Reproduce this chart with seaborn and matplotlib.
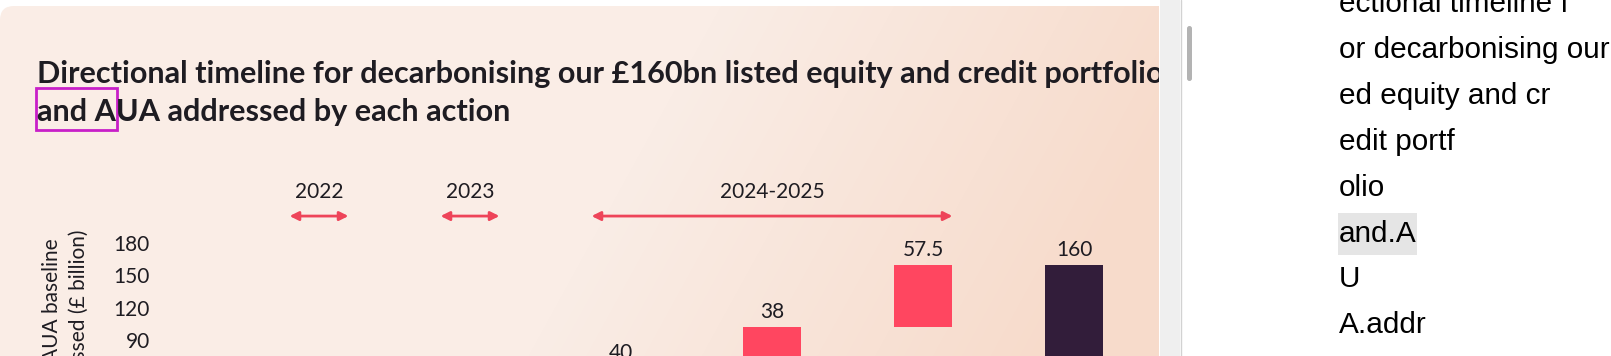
import numpy as np
import matplotlib
matplotlib.use("Agg")
from matplotlib import pyplot as plt
from matplotlib.patches import FancyBboxPatch, Rectangle
import seaborn as sns

# data
steps = ['2022', '2023', 'Action 3', 'Action 4', 'Action 5', 'Total']
step_values = [12.0, 12.5, 40, 38, 57.5, 160]
step_labels = ['', '', '40', '38', '57.5', '160']
is_total = [False, False, False, False, False, True]
period_names = ['2022', '2023', '2024-2025']
period_first = [0, 1, 2]
period_last = [0, 1, 4]
yticks = [90, 120, 150, 180]
side_lines = ['ectional timeline f', 'or decarbonising our', 'ed equity and cr',
              'edit portf', 'olio', 'and.A', 'U', 'A.addr']

RED = '#FF4660'
DARK = '#321D3A'
ARROW = '#EE4459'
INK = '#1E1C22'

sns.set_theme(style='white')
plt.rcParams['font.family'] = ['Lato', 'DejaVu Sans']

W, H = 1611, 356
fig = plt.figure(figsize=(W / 100, H / 100), dpi=100, facecolor='white')

# background card with soft gradient
bg = fig.add_axes([0, 0, 1, 1], zorder=-10)
bg.set_xlim(0, W)
bg.set_ylim(H, 0)
bg.axis('off')
cw = 1159
yy, xx = np.mgrid[0:420, 0:1300]
t = np.clip((xx + 0.55 * yy - 720) / 520, 0, 1)[..., None]
light = np.array([250, 237, 230]) / 255
peach = np.array([247, 219, 203]) / 255
img = light * (1 - t) + peach * t
im = bg.imshow(img, extent=[0, 1300, 426, 6], origin='upper', aspect='auto')
card = FancyBboxPatch((0, 6), 1300, 420, boxstyle='round,pad=0,rounding_size=14',
                      transform=bg.transData, facecolor='none', edgecolor='none')
bg.add_patch(card)
im.set_clip_path(card)

# main chart axes (bottom part of the chart runs below the visible window)
ax = fig.add_axes([165 / W, -81 / H, (1159 - 165) / W, 194 / H], zorder=1)
ax.patch.set_alpha(0)

bottoms = []
run = 0
for v, tot in zip(step_values, is_total):
    if tot:
        bottoms.append(0)
    else:
        bottoms.append(run)
        run += v

sns.barplot(x=steps, y=step_values, bottom=bottoms, width=0.39, errorbar=None,
            color=RED, ax=ax, linewidth=0)
for p, tot in zip(ax.patches, is_total):
    p.set_facecolor(DARK if tot else RED)

ax.bar_label(ax.containers[0], labels=step_labels, padding=3, fontsize=15,
             color=INK)

ax.set_xlim(-1.02, 5.563)
ax.set_ylim(0, 180)
ax.set_yticks(yticks)
ax.tick_params(axis='y', length=0, pad=11, labelsize=15, labelcolor=INK)
ax.tick_params(axis='x', length=0, labelbottom=False)
sns.despine(ax=ax, left=True, bottom=True)
ax.set_xlabel('')

# period arrows above the bars
hw = 0.195
for name, a, b in zip(period_names, period_first, period_last):
    ax.annotate('', xy=(b + hw, 205), xytext=(a - hw, 205), annotation_clip=False,
                arrowprops=dict(arrowstyle='<|-|>', color=ARROW, lw=2,
                                mutation_scale=13, shrinkA=0, shrinkB=0))
    ax.text((a + b) / 2, 227, name, ha='center', va='center', fontsize=15,
            color=INK, clip_on=False)

# y axis label (rotated, running off the bottom edge)
fig.text(52 / W, 118 / H, 'AUA baseline', rotation=90, ha='center', va='top',
         fontsize=15, color=INK)
fig.text(79 / W, 127 / H, 'addressed (£ billion)', rotation=90, ha='center',
         va='top', fontsize=15, color=INK)

# title
t1 = fig.text(37 / W, (H - 83) / H,
              'Directional timeline for decarbonising our £160bn listed equity and credit portfolio',
              fontsize=21, fontweight='bold', color=INK, va='baseline')
t2 = fig.text(37 / W, (H - 121) / H, 'and AUA addressed by each action',
              fontsize=21, fontweight='bold', color=INK, va='baseline')
fig.canvas.draw()
w1 = t1.get_window_extent(fig.canvas.get_renderer()).width
fs = 21 * 1125 / w1
t1.set_fontsize(fs)
t2.set_fontsize(fs)

# selection box round "and A"
bg.add_patch(Rectangle((36, 88), 81, 42, fill=False, edgecolor='#C81FC8', lw=2,
                       zorder=5))

# right-hand panel: scroll gutter and text list
side = fig.add_axes([cw / W, 0, 1 - cw / W, 1], zorder=5)
side.set_xlim(cw, W)
side.set_ylim(H, 0)
side.axis('off')
side.add_patch(Rectangle((cw, 0), W - cw, H, facecolor='white', edgecolor='none'))
side.add_patch(Rectangle((1160, 0), 20, H, facecolor='#EFEFEF', edgecolor='none'))
side.plot([1180.5, 1180.5], [0, H], color='#D2D2D2', lw=1)
side.add_patch(FancyBboxPatch((1187, 26), 5, 55, boxstyle='round,pad=0,rounding_size=2.5',
                              facecolor='#B3B3B3', edgecolor='none'))
side.add_patch(Rectangle((1338, 213), 79, 42, facecolor='#E5E5E5', edgecolor='none'))
for i, line in enumerate(side_lines):
    side.text(1339, 12 + 45.9 * i, line, fontsize=21.4, family='Liberation Sans',
              color='black', va='baseline', ha='left')

fig.savefig('out.png', dpi=100, facecolor='white')
